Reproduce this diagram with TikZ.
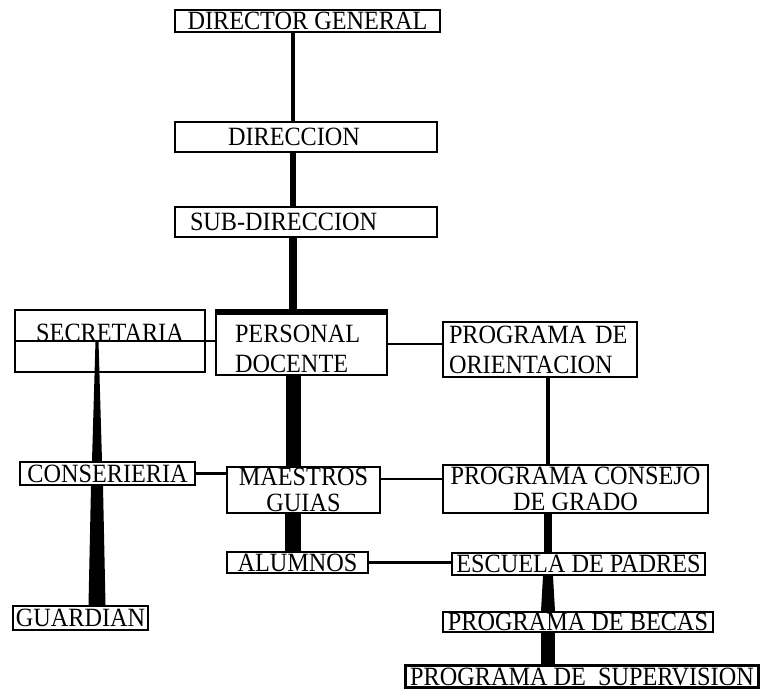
\documentclass[tikz,border=0pt]{standalone}
\usepackage{fontspec}
\setmainfont{Liberation Serif}[FakeStretch=0.92]
\usepackage{tikz}
\usetikzlibrary{calc,backgrounds}
\newcommand{\inkcolor}{black}
\newcommand{\px}{0.02cm}
\newcommand{\rim}{1.2pt}

\begin{document}
\begin{tikzpicture}[x=\px, y=-\px,
  box/.style={draw=\inkcolor, line width=\rim, inner sep=0pt, font=\fontsize{15}{17}\selectfont},
  tight/.style={font=\fontsize{15}{14.7}\selectfont},
  bar/.style={\inkcolor, line width=#1*\px},
  link/.style={\inkcolor, line width=\rim}]
\useasboundingbox (0, 0) rectangle (761, 690);
\node[box] (1) at (307.5, 21) [minimum width=265*\px, minimum height=22*\px] {DIRECTOR GENERAL};
\node[box] (2) at (306, 137) [minimum height=30*\px, text width=156*\px, inner xsep=53*\px, align=left] {DIRECCION};
\node[box] (3) at (306, 222) [minimum height=30*\px, text width=232*\px, inner xsep=15*\px, align=left] {SUB-DIRECCION};
\node[box] (4) at (110, 341) [minimum width=190*\px, text height=31*\px, text depth=31*\px] {SECRETARIA};
\node[box] (5) at (301.5, 344) [minimum height=62*\px, text width=133*\px, inner xsep=19*\px, align=left] {\rule{0pt}{0.54cm}PERSONAL\\DOCENTE};
\node[box] (6) at (540, 349.5) [minimum height=55*\px, text width=182*\px, inner xsep=6*\px, align=left] {PROGRAMA DE\\ORIENTACION};
\node[box] (7) at (107.5, 473.5) [minimum width=175*\px, minimum height=23*\px] {CONSERIERIA};
\node[box, tight] (8) at (303.5, 490) [minimum width=153*\px, minimum height=46*\px, align=center] {MAESTROS\\GUIAS};
\node[box, tight] (9) at (575.5, 489) [minimum width=265*\px, minimum height=48*\px, align=center] {PROGRAMA CONSEJO\\DE GRADO};
\node[box] (10) at (80.5, 618) [minimum width=135*\px, minimum height=24*\px] {GUARDIAN};
\node[box] (11) at (297.5, 562.5) [minimum width=141*\px, minimum height=21*\px] {ALUMNOS};
\node[box] (12) at (578.5, 564) [minimum width=253*\px, minimum height=22*\px] {ESCUELA DE PADRES};
\node[box] (13) at (578, 622) [minimum width=270*\px, minimum height=20*\px] {PROGRAMA DE BECAS};
\node[box] (14) at (582, 676.5) [minimum width=353*\px, minimum height=22*\px] {PROGRAMA DE\ \ SUPERVISION};
\coordinate (spine) at (293, 0);
\coordinate (rspine) at (548, 0);
\coordinate (lspine) at (97, 0);
\draw[bar=6] (5.north west) -- (5.north east);
\draw[link] (4.west) -- (4.east);
%main line
\begin{scope}[on background layer]
\draw[bar=4] (1.south -| spine) -- (2.north -| spine);
\draw[bar=6] (2.south -| spine) -- (3.north -| spine);
\draw[bar=8] (3.south -| spine) -- (5.north -| spine);
\draw[bar=15] (5.south -| spine) -- (8.north -| spine);
\draw[bar=16] (8.south -| spine) -- (11.north -| spine);
\end{scope}
%side links
\begin{scope}[on background layer]
\draw[link] (4.east) -- (4.east -| 5.west);
\draw[link] (5.east) -- (5.east -| 6.west);
\draw[link] (7.east) -- (7.east -| 8.west);
\draw[link] ([yshift=11*\px]8.east) -- ([yshift=11*\px]8.east -| 9.west);
\draw[link] (11.east) -- (11.east -| 12.west);
\end{scope}
%right line
\begin{scope}[on background layer]
\draw[bar=4] (6.south -| rspine) -- (9.north -| rspine);
\draw[bar=8] (9.south -| rspine) -- (12.north -| rspine);
\fill[\inkcolor] ($(12.south -| rspine)+(-5, 0)$) -- ($(12.south -| rspine)+(5, 0)$) -- ($(13.north -| rspine)+(7, 0)$) -- ($(13.north -| rspine)+(-7, 0)$) -- cycle;
\draw[bar=14] (13.south -| rspine) -- (14.north -| rspine);
\end{scope}
%left line
\begin{scope}[on background layer]
\fill[\inkcolor] ($(4.center -| lspine)+(-1.5, 0)$) -- ($(4.center -| lspine)+(1.5, 0)$) -- ($(7.north -| lspine)+(5, 0)$) -- ($(7.north -| lspine)+(-5, 0)$) -- cycle;
\fill[\inkcolor] ($(7.south -| lspine)+(-6, 0)$) -- ($(7.south -| lspine)+(6, 0)$) -- ($(10.north -| lspine)+(8.5, 0)$) -- ($(10.north -| lspine)+(-8.5, 0)$) -- cycle;
\end{scope}
\end{tikzpicture}
\end{document}
